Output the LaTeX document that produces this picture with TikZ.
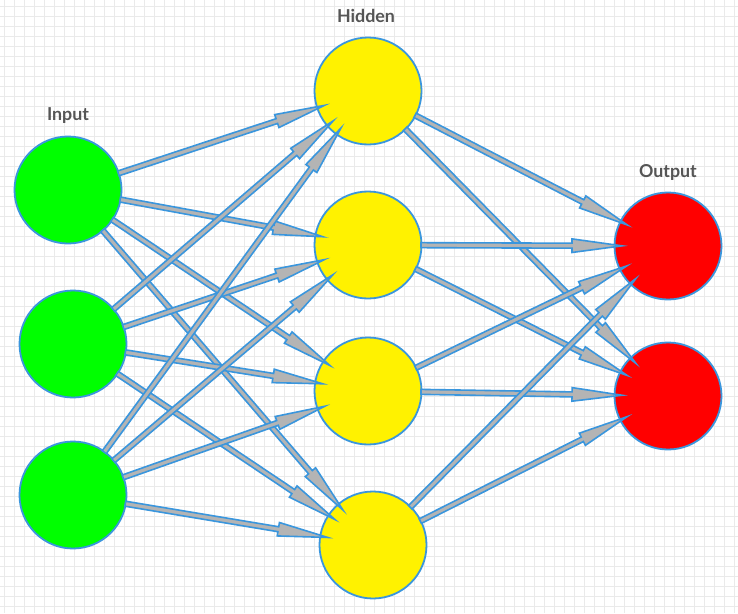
\documentclass[tikz,border=0pt]{standalone}
\usepackage{fontspec}
\setmainfont{Lato}
\usetikzlibrary{calc}

\definecolor{edgeblue}{RGB}{58,150,221}
\definecolor{shaftgray}{RGB}{180,180,180}
\definecolor{gridgray}{RGB}{234,234,234}
\definecolor{labelgray}{RGB}{85,85,85}

\tikzset{
  neuron/.style={circle, draw=edgeblue, line width=1.8pt, minimum size=107pt, inner sep=0pt},
  innode/.style={neuron, fill=green},
  hidnode/.style={neuron, fill=yellow},
  outnode/.style={neuron, fill=red},
  layerlabel/.style={font=\fontsize{17.8}{20}\selectfont\bfseries, text=labelgray},
  blockarrow/.style={draw=edgeblue, fill=shaftgray, line width=1.6pt, line join=miter},
}

% block arrow from the rim of node #1 to just inside the rim of node #2
\newcommand\linkarrow[2]{%
  \coordinate (ba-s) at ($(#1)!53pt!(#2)$);
  \coordinate (ba-e) at ($(#2)!46pt!(#1)$);
  \coordinate (ba-b) at ($(ba-e)!50pt!(ba-s)$);
  \draw[blockarrow]
    ($(ba-s)!2.5pt!90:(ba-e)$) -- ($(ba-b)!2.5pt!90:(ba-e)$) --
    ($(ba-b)!6.8pt!90:(ba-e)$) -- (ba-e) --
    ($(ba-b)!6.8pt!-90:(ba-e)$) -- ($(ba-b)!2.5pt!-90:(ba-e)$) --
    ($(ba-s)!2.5pt!-90:(ba-e)$) -- cycle;
}

\begin{document}
\begin{tikzpicture}[x=1pt,y=1pt]
  \useasboundingbox (0,0) rectangle (738,-613);
  \fill[white] (0,0) rectangle (738,-613);

  % background grid
  \foreach \gx in {4,14,...,734} \draw[gridgray, line width=0.8pt] (\gx,0) -- (\gx,-613);
  \foreach \gy in {6,16,...,606} \draw[gridgray, line width=0.8pt] (0,-\gy) -- (738,-\gy);

  % neurons
  \node[innode] (i1) at (68,-190) {};
  \node[innode] (i2) at (73,-344) {};
  \node[innode] (i3) at (73,-495) {};

  \node[hidnode] (h1) at (368,-91) {};
  \node[hidnode] (h2) at (368,-245) {};
  \node[hidnode] (h3) at (368,-391) {};
  \node[hidnode] (h4) at (373,-545) {};

  \node[outnode] (o1) at (668,-246) {};
  \node[outnode] (o2) at (668,-396) {};

  % layer titles
  \node[layerlabel] (tin) at (68,-116) {Input};
  \node[layerlabel] (thid) at (366,-16) {Hidden};
  \node[layerlabel] (tout) at (668,-172) {Output};

  % connections
  \foreach \a in {i1,i2,i3}
    \foreach \b in {h1,h2,h3,h4}
      {\linkarrow{\a}{\b}}
  \foreach \a in {h1,h2,h3,h4}
    \foreach \b in {o1,o2}
      {\linkarrow{\a}{\b}}
\end{tikzpicture}
\end{document}
